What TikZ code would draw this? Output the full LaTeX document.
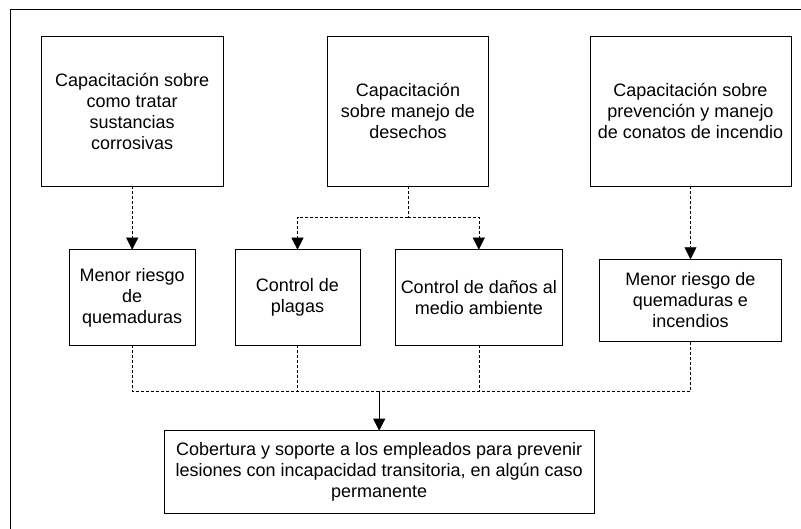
\documentclass[tikz,border=0pt]{standalone}
\usepackage{fontspec}
\setmainfont{Liberation Sans}
\usetikzlibrary{arrows.meta}
\begin{document}
\begin{tikzpicture}[x=1pt,y=-1pt]
                \tikzset{every node/.style={font=\fontsize{18}{21}\selectfont},
                    box/.style={draw,line width=0.75pt,align=center,inner sep=0pt,outer sep=0pt},
                    dline/.style={line width=0.6pt,dash pattern=on 3pt off 2pt},
                    tip/.style={-{Triangle[width=12pt,length=12pt]}}}
                \useasboundingbox (0,0) rectangle (801,529);
                \draw[line width=0.75pt] (10,529) -- (10,9) -- (801,9);
                \node[box,minimum width=181.7pt,minimum height=150pt] (cap1) at (132.2,111) {Capacitación sobre\\como tratar\\sustancias\\corrosivas};
                \node[box,minimum width=160.6pt,minimum height=150pt] (cap2) at (408,111) {Capacitación\\sobre manejo de\\desechos};
                \node[box,minimum width=201pt,minimum height=150pt] (cap3) at (690.5,111) {Capacitación sobre\\prevención y manejo\\de conatos de incendio};
                \node[box,minimum width=126.6pt,minimum height=95.6pt] (men1) at (132.2,297.5) {Menor riesgo\\de\\quemaduras};
                \node[box,minimum width=125pt,minimum height=95.6pt] (ctl1) at (297.5,297.5) {Control de\\plagas};
                \node[box,minimum width=167pt,minimum height=95.6pt] (ctl2) at (478.8,297.5) {Control de daños al\\medio ambiente};
                \node[box,minimum width=182.4pt,minimum height=82.4pt] (men2) at (690.5,300.5) {Menor riesgo de\\quemaduras e\\incendios};
                \node[box,minimum width=430.3pt,minimum height=82.6pt] (cob) at (379.2,472) {Cobertura y soporte a los empleados para prevenir\\lesiones con incapacidad transitoria, en algún caso\\permanente};
                \coordinate (split) at (408,217);
                \coordinate (join) at (379.2,391.5);
                \draw[dline,tip] (cap1) -- (men1);
                \draw[dline] (cap2) -- (split);
                \draw[dline,tip] (split) -| (ctl1.north);
                \draw[dline,tip] (split) -| (ctl2.north);
                \draw[dline,tip] (cap3) -- (men2);
                \draw[dline] (men1.south) |- (join);
                \draw[dline] (ctl1.south) |- (join);
                \draw[dline] (ctl2.south) |- (join);
                \draw[dline] (men2.south) |- (join);
                \draw[line width=0.75pt,tip] (join) -- (cob);
            \end{tikzpicture}
\end{document}
